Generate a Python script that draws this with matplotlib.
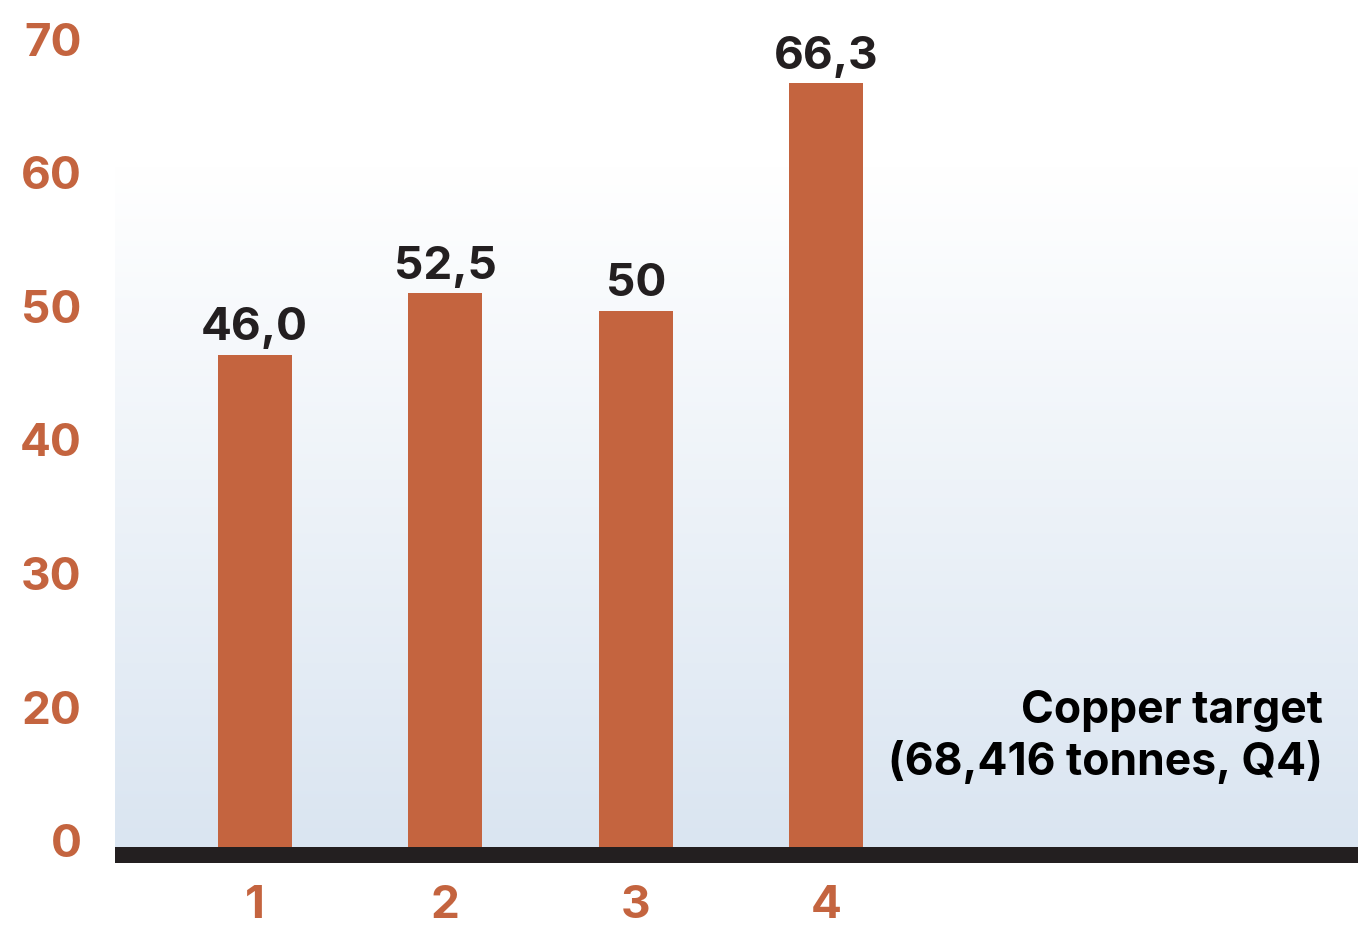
import numpy as np
import matplotlib
matplotlib.use("Agg")
from matplotlib import pyplot as plt
from matplotlib.colors import LinearSegmentedColormap

# data
quarters = [1, 2, 3, 4]
quarter_labels = ["1", "2", "3", "4"]
bar_heights = [46.3, 50.9, 49.6, 66.6]        # heights as drawn in the picture
value_labels = ["46,0", "52,5", "50", "66,3"]  # printed labels
tick_positions = [10, 20, 30, 40, 50, 60, 70]
tick_labels = ["0", "20", "30", "40", "50", "60", "70"]
target_lines = ["Copper target", "(68,416 tonnes, Q4)"]

COPPER = "#C4643F"
INK = "#231F20"

plt.rcParams['font.family'] = ['Inter', 'DejaVu Sans']
plt.rcParams['font.weight'] = 'bold'

W, H = 1358, 928
fig = plt.figure(figsize=(W / 100, H / 100), dpi=100)
ax = fig.add_axes([115 / W, 64 / H, 1 - 115 / W, 864 / H])

y_low, y_base, y_top = 8.25, 9.45, 72.92
x_lo, x_hi = 0.268, 6.789
ax.set_xlim(x_lo, x_hi)
ax.set_ylim(y_low, y_top)

# background gradient (white at top -> pale blue at the base)
grad = np.linspace(0, 1, 256).reshape(-1, 1)
cmap = LinearSegmentedColormap.from_list("bg", ["#DAE5F1", "#FFFFFF"])
ax.imshow(grad, cmap=cmap, aspect="auto", origin="lower",
          extent=[x_lo, x_hi, y_base, 60.4], zorder=0)

ax.bar(quarters, bar_heights, width=0.388, color=COPPER, zorder=2)

# thick dark baseline
ax.axhspan(y_low, y_base, color=INK, zorder=3, lw=0)

for x, h, lab in zip(quarters, bar_heights, value_labels):
    ax.annotate(lab, (x, h), xytext=(0, 11), textcoords="offset points",
                ha="center", va="baseline", fontsize=33, color=INK,
                fontweight="bold", zorder=4)

# copper target note
ax.text(6.605, 18.8, target_lines[0], ha="right", va="baseline",
        fontsize=32, color="black", fontweight="bold", zorder=4)
ax.text(6.605, 14.9, target_lines[1], ha="right", va="baseline",
        fontsize=32, color="black", fontweight="bold", zorder=4)

ax.set_yticks(tick_positions)
ax.set_yticklabels(tick_labels)
ax.set_xticks(quarters)
ax.set_xticklabels(quarter_labels)
ax.tick_params(axis="y", length=0, pad=24, labelsize=33, labelcolor=COPPER)
ax.tick_params(axis="x", length=0, pad=15, labelsize=33, labelcolor=COPPER)
for lab in ax.get_xticklabels() + ax.get_yticklabels():
    lab.set_fontweight("bold")

for s in ax.spines.values():
    s.set_visible(False)

fig.savefig("out.png", dpi=100)
